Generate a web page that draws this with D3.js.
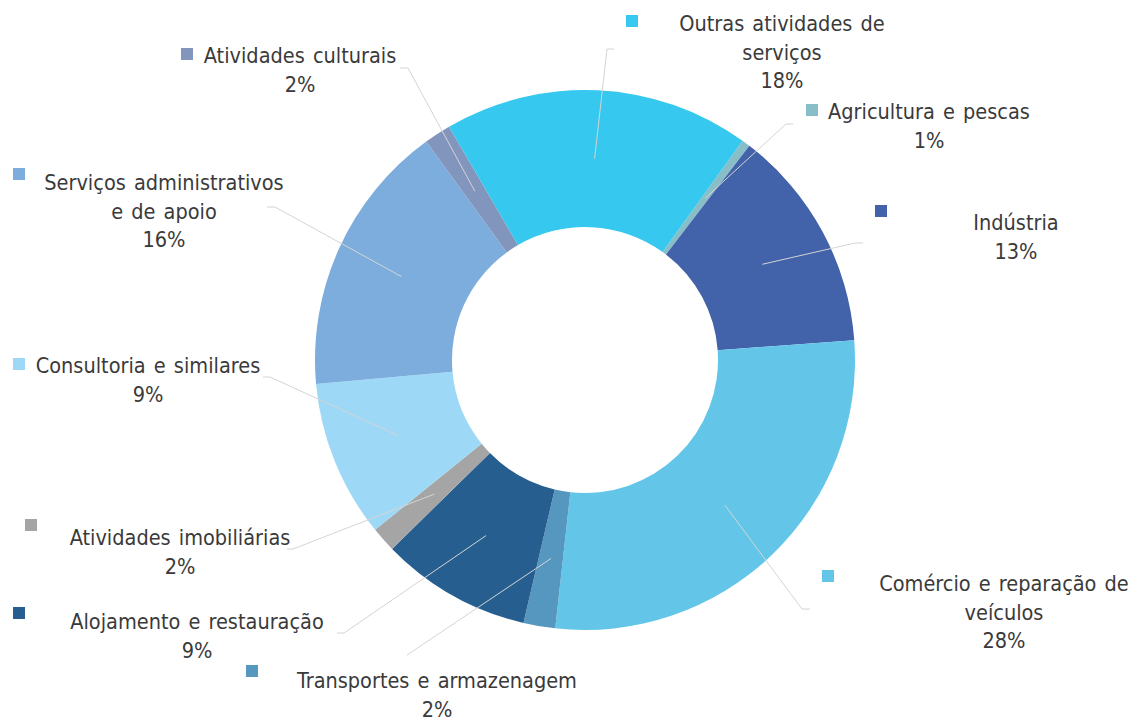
<!DOCTYPE html>
<html lang="pt">

<head>
    <meta charset="UTF-8">
    <title>Distribuição por setor de atividade</title>
    <script src="https://cdn.jsdelivr.net/npm/d3@7"></script>
    <style>
        body {
            margin: 0;
            background: #ffffff;
        }

        svg {
            display: block;
        }

        text {
            font-family: "DejaVu Sans Condensed", "DejaVu Sans", sans-serif;
            font-stretch: condensed;
            word-spacing: 2px;
            fill: #3a3a3a;
        }
    </style>
</head>

<body>
    <svg id="chart"></svg>

    <script>
        // data (in %), clockwise starting from the first slice
        const categories = [
            "Agricultura e pescas",
            "Indústria",
            "Comércio e reparação de veículos",
            "Transportes e armazenagem",
            "Alojamento e restauração",
            "Atividades imobiliárias",
            "Consultoria e similares",
            "Serviços administrativos e de apoio",
            "Atividades culturais",
            "Outras atividades de serviços"
        ];
        const values = [0.5, 13.4, 27.9, 1.9, 9.0, 1.5, 9.4, 16.4, 1.6, 18.3];

        const colors = ["#87bec8", "#4263aa", "#63c6e9", "#5697bf", "#255e8f",
            "#a5a5a5", "#9dd9f6", "#7cadDC", "#8295bc", "#36c8ee"];

        const width = 1132, height = 720;
        const cx = 585, cy = 360;
        const outerRadius = 270, innerRadius = 133;
        const firstSliceAngle = 35.7; // degrees, like Excel's "angle of first slice"
        const lineHeight = 28.5;
        const keySize = 12;

        // hand placed label boxes: text centre x, first baseline, where the name wraps,
        // legend key corner, leader start x / y / elbow x
        const labelLayout = [
            { x: 929, y: 119, wrap: null, key: [806, 104], leader: [793, 124, 786] },
            { x: 1016, y: 230, wrap: null, key: [875, 205], leader: [863, 243, 855] },
            { x: 1004, y: 591, wrap: 4, key: [822, 570], leader: [810, 609, 802] },
            { x: 437, y: 688, wrap: null, key: [246, 665], leader: [407, 655, 407] },
            { x: 197, y: 629, wrap: null, key: [13, 607], leader: [337, 633, 344] },
            { x: 180, y: 545, wrap: null, key: [25, 519], leader: [287, 549, 293] },
            { x: 148, y: 373, wrap: null, key: [13, 358], leader: [263, 377, 270] },
            { x: 164, y: 190, wrap: 2, key: [13, 168], leader: [267, 207, 275] },
            { x: 300, y: 63, wrap: null, key: [181, 48], leader: [400, 68, 408] },
            { x: 782, y: 31, wrap: 3, key: [626, 15], leader: [614, 49, 607] }
        ];

        const svg = d3.select("#chart").attr("width", width).attr("height", height);

        const color = d3.scaleOrdinal().domain(categories).range(colors);

        const start = firstSliceAngle * Math.PI / 180;
        const pie = d3.pie()
            .sort(null)
            .value(d => d.value)
            .startAngle(start)
            .endAngle(start + 2 * Math.PI);

        const arc = d3.arc().innerRadius(innerRadius).outerRadius(outerRadius);

        const data = categories.map((c, i) => ({ name: c, value: values[i] }));
        const arcs = pie(data);

        const g = svg.append("g").attr("transform", `translate(${cx},${cy})`);

        // Draw slices
        g.selectAll("path.slice")
            .data(arcs)
            .join("path")
            .attr("class", "slice")
            .attr("d", arc)
            .attr("fill", d => color(d.data.name));

        // Leader lines, from the label to the middle of the ring
        svg.selectAll("polyline.leader")
            .data(arcs)
            .join("polyline")
            .attr("class", "leader")
            .attr("fill", "none")
            .attr("stroke", "#d4d4d4")
            .attr("stroke-width", 1)
            .attr("points", (d, i) => {
                const [sx, sy, ex] = labelLayout[i].leader;
                const [px, py] = arc.centroid(d);
                return [[sx, sy], [ex, sy], [px + cx, py + cy]].map(p => p.join(",")).join(" ");
            });

        // Labels with legend key
        const labels = svg.selectAll("g.label")
            .data(arcs)
            .join("g")
            .attr("class", "label");

        labels.append("rect")
            .attr("x", (d, i) => labelLayout[i].key[0])
            .attr("y", (d, i) => labelLayout[i].key[1])
            .attr("width", keySize)
            .attr("height", keySize)
            .attr("fill", d => color(d.data.name));

        labels.each(function (d, i) {
            const layout = labelLayout[i];
            const words = d.data.name.split(" ");
            const lines = layout.wrap
                ? [words.slice(0, layout.wrap).join(" "), words.slice(layout.wrap).join(" ")]
                : [d.data.name];
            lines.push(Math.round(d.data.value) + "%");

            d3.select(this).selectAll("text")
                .data(lines)
                .join("text")
                .attr("x", layout.x)
                .attr("y", (t, j) => layout.y + j * lineHeight)
                .attr("text-anchor", "middle")
                .attr("font-size", "21.5px")
                .text(t => t);
        });
    </script>
</body>

</html>
